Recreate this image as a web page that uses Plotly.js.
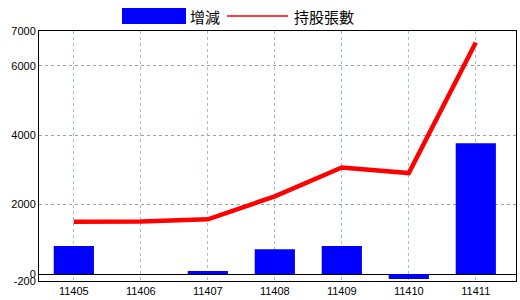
<!DOCTYPE html>
<html>
<head>
<meta charset="utf-8">
<script src="https://cdn.plot.ly/plotly-3.0.1.min.js"></script>
<style>html,body{margin:0;padding:0;background:#fff;}#chart{width:520px;height:300px;}</style>
</head>
<body>
<div id="chart"></div>
<script>
const categories = ['11405','11406','11407','11408','11409','11410','11411'];
const changeValues = [805, 0, 86, 718, 805, -145, 3765];
const holdingValues = [1510, 1515, 1575, 2240, 3070, 2910, 6670];
const yTickVals = [-200, 0, 2000, 4000, 6000, 7000];
const yTickText = ['-200', '0', '2000', '4000', '6000', '7000'];
const legendNames = ['增減', '持股張數'];

const traces = [
  {
    type: 'bar', x: categories, y: changeValues, name: legendNames[0],
    marker: {color: '#0000ff'}, width: 0.6, showlegend: false, hoverinfo: 'none'
  },
  {
    type: 'scatter', mode: 'lines', x: categories, y: holdingValues, name: legendNames[1],
    line: {color: '#ff0000', width: 4.5}, showlegend: false, hoverinfo: 'none'
  }
];

const W = 477, H = 250, L = 39, B = 281;
const px = v => (v - L) / W;
const py = v => (B - v) / H;

const layout = {
  width: 520, height: 300,
  margin: {l: 39, r: 4, t: 31, b: 19},
  paper_bgcolor: '#ffffff', plot_bgcolor: '#ffffff',
  font: {family: 'Liberation Sans, Arial, sans-serif', size: 11, color: '#000'},
  xaxis: {
    type: 'category', range: [-0.52, 6.6],
    showgrid: true, gridcolor: '#a8bccb', griddash: 'dot', gridwidth: 1,
    showline: true, linecolor: '#000', linewidth: 1, mirror: true,
    ticks: '', tickfont: {size: 11}, zeroline: false
  },
  yaxis: {
    range: [-200, 7000], tickvals: yTickVals, ticktext: yTickText,
    showgrid: true, gridcolor: '#a0a0a0', griddash: 'dot', gridwidth: 1,
    showline: true, linecolor: '#000', linewidth: 1, mirror: true,
    zeroline: true, zerolinecolor: '#000', zerolinewidth: 1,
    ticks: '', ticklen: 0, tickfont: {size: 11}
  },
  bargap: 0.4,
  shapes: [
    {type: 'rect', xref: 'paper', yref: 'paper', x0: px(122), x1: px(186), y0: py(24), y1: py(8),
     fillcolor: '#0000ff', line: {width: 0}},
    {type: 'line', xref: 'paper', yref: 'paper', x0: px(227), x1: px(288), y0: py(16), y1: py(16),
     line: {color: '#ff0000', width: 1.5}}
  ],
  annotations: [
    {xref: 'paper', yref: 'paper', x: px(188), y: py(16.5), xanchor: 'left', yanchor: 'middle',
     text: legendNames[0], showarrow: false,
     font: {family: 'Noto Sans CJK TC', size: 15, color: '#000'}},
    {xref: 'paper', yref: 'paper', x: px(292), y: py(16.5), xanchor: 'left', yanchor: 'middle',
     text: legendNames[1], showarrow: false,
     font: {family: 'Noto Sans CJK TC', size: 15, color: '#000'}}
  ]
};

Plotly.newPlot('chart', traces, layout, {displayModeBar: false, staticPlot: true});
</script>
</body>
</html>
